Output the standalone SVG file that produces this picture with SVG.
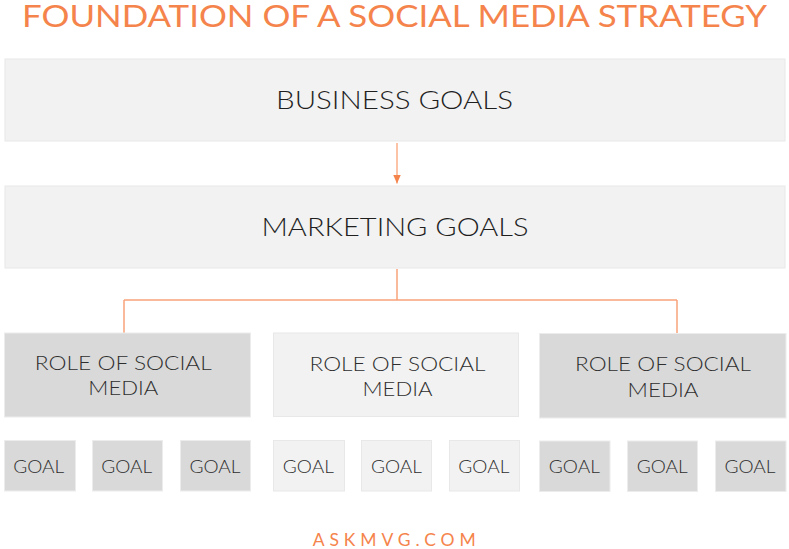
<svg xmlns="http://www.w3.org/2000/svg" width="789" height="549" viewBox="0 0 789 549">
<style>
  text { font-family: "Lato", "Open Sans", "Liberation Sans", sans-serif; font-weight: 300; text-anchor: middle; }
  .title { fill: #F5844C; font-size: 30px; font-weight: 400; }
  .site { fill: #F5844C; font-size: 17.5px; font-weight: 400; }
  .big { fill: #1f1f1f; font-size: 25px; }
  .role { fill: #2e2e2e; font-size: 20px; }
  .goal { fill: #2e2e2e; font-size: 18px; }
  .light { fill: #f2f2f2; stroke: #e8e8e8; stroke-width: 1; }
  .dark { fill: #d9d9d9; stroke: #ececec; stroke-width: 1; }
  .conn { fill: none; stroke: #F8A27A; stroke-width: 1.5; }
</style>
<defs>
  <marker id="arrow" markerWidth="9" markerHeight="8" refX="9" refY="4" orient="auto" markerUnits="userSpaceOnUse">
    <path d="M0,0 L9,4 L0,8 Z" fill="#F5844C"/>
  </marker>
</defs>
<rect width="789" height="549" fill="#ffffff"/>
<text class="title" x="394.5" y="27" textLength="745" lengthAdjust="spacingAndGlyphs">FOUNDATION OF A SOCIAL MEDIA STRATEGY</text>

<g id="connectors">
  <line x1="397" y1="143" x2="397" y2="183.5" stroke="#FCC3A6" stroke-width="2" marker-end="url(#arrow)"/>
  <path class="conn" d="M397,269 V300 M124,300 H677 M124,300 V333 M677,300 V333"/>
</g>

<g id="business-goals">
  <rect class="light" x="5" y="59" width="780" height="82"/>
  <text class="big" x="394.5" y="108.7" textLength="237" lengthAdjust="spacingAndGlyphs">BUSINESS GOALS</text>
</g>
<g id="marketing-goals">
  <rect class="light" x="5" y="186" width="780" height="82"/>
  <text class="big" x="395" y="236" textLength="267" lengthAdjust="spacingAndGlyphs">MARKETING GOALS</text>
</g>

<g id="role-1">
  <rect class="dark" x="4.5" y="333" width="246" height="84"/>
  <text class="role" x="123.3" y="370" textLength="177" lengthAdjust="spacingAndGlyphs">ROLE OF SOCIAL</text>
  <text class="role" x="123.3" y="395" textLength="70" lengthAdjust="spacingAndGlyphs">MEDIA</text>
</g>
<g id="role-2">
  <rect class="light" x="273.5" y="333" width="245" height="83.5"/>
  <text class="role" x="397.5" y="371" textLength="176" lengthAdjust="spacingAndGlyphs">ROLE OF SOCIAL</text>
  <text class="role" x="397.5" y="396" textLength="70" lengthAdjust="spacingAndGlyphs">MEDIA</text>
</g>
<g id="role-3">
  <rect class="dark" x="539.5" y="333.5" width="246.5" height="84.5"/>
  <text class="role" x="663" y="371" textLength="176" lengthAdjust="spacingAndGlyphs">ROLE OF SOCIAL</text>
  <text class="role" x="663" y="396.5" textLength="71" lengthAdjust="spacingAndGlyphs">MEDIA</text>
</g>

<g id="goal-1"><rect class="dark" x="4.5" y="440.5" width="71" height="50.5"/><text class="goal" x="38.7" y="472.7" textLength="51" lengthAdjust="spacingAndGlyphs">GOAL</text></g>
<g id="goal-2"><rect class="dark" x="92.5" y="440.5" width="70" height="50.5"/><text class="goal" x="126.7" y="472.7" textLength="51" lengthAdjust="spacingAndGlyphs">GOAL</text></g>
<g id="goal-3"><rect class="dark" x="180.5" y="440.5" width="70" height="50.5"/><text class="goal" x="215" y="472.7" textLength="51" lengthAdjust="spacingAndGlyphs">GOAL</text></g>
<g id="goal-4"><rect class="light" x="273.5" y="440.5" width="71" height="50.5"/><text class="goal" x="308.3" y="472.7" textLength="51" lengthAdjust="spacingAndGlyphs">GOAL</text></g>
<g id="goal-5"><rect class="light" x="361.5" y="440.5" width="70" height="50.5"/><text class="goal" x="396.5" y="472.7" textLength="51" lengthAdjust="spacingAndGlyphs">GOAL</text></g>
<g id="goal-6"><rect class="light" x="449.5" y="440.5" width="70" height="50.5"/><text class="goal" x="483.8" y="472.7" textLength="51" lengthAdjust="spacingAndGlyphs">GOAL</text></g>
<g id="goal-7"><rect class="dark" x="539.5" y="441" width="70.5" height="50.5"/><text class="goal" x="574.3" y="473.3" textLength="51" lengthAdjust="spacingAndGlyphs">GOAL</text></g>
<g id="goal-8"><rect class="dark" x="627.5" y="441" width="70" height="50.5"/><text class="goal" x="662.2" y="473.3" textLength="51" lengthAdjust="spacingAndGlyphs">GOAL</text></g>
<g id="goal-9"><rect class="dark" x="715.5" y="441" width="70.5" height="50.5"/><text class="goal" x="750" y="473.3" textLength="51" lengthAdjust="spacingAndGlyphs">GOAL</text></g>

<text class="site" x="394.2" y="545.7" textLength="163" lengthAdjust="spacing">ASKMVG.COM</text>
</svg>
